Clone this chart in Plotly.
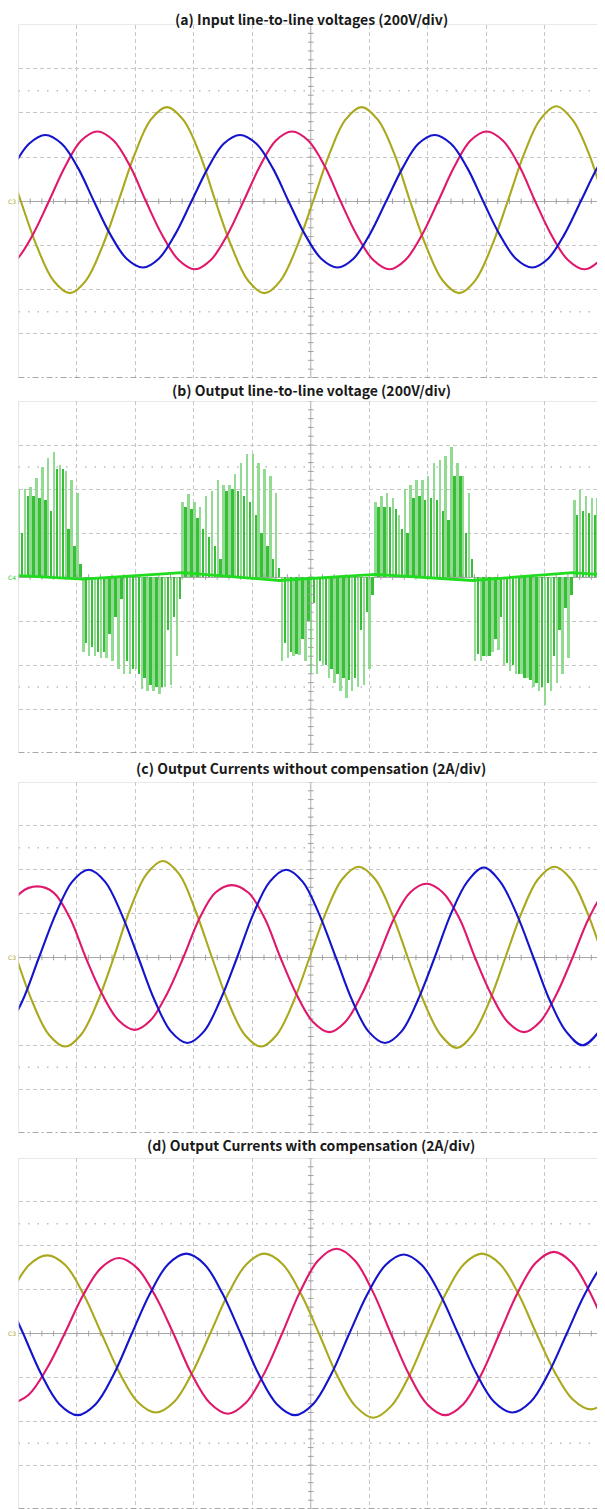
import plotly.graph_objects as go

# page is 605 x 1509; the html body adds an 8 px margin, so the figure is drawn 8 px in
PAGE_W, PAGE_H = 605, 1509
OFF = 8
W, H = PAGE_W - OFF, PAGE_H - OFF

# ---------------- panel (a): input line-to-line voltages (div units) ----------------
a_yel_t = [-0.24, 0.04, 0.32, 0.60, 0.88, 1.15, 1.43, 1.71, 1.99, 2.26, 2.54, 2.82, 3.10,
           3.37, 3.65, 3.93, 4.21, 4.48, 4.76, 5.04, 5.32, 5.59, 5.87, 6.15, 6.43, 6.70,
           6.98, 7.26, 7.54, 7.81, 8.09, 8.37, 8.65, 8.92, 9.20, 9.48, 9.76, 10.03, 10.31]
a_yel_v = [1.07, 0, -1.04, -1.80, -2.08, -1.80, -1.04, 0, 1.07, 1.84, 2.13, 1.84, 1.07,
           0, -1.04, -1.80, -2.08, -1.80, -1.04, 0, 1.07, 1.84, 2.13, 1.84, 1.07, 0,
           -1.04, -1.80, -2.08, -1.80, -1.04, 0, 1.07, 1.84, 2.15, 1.84, 1.07, 0, -1.04]
a_blu_t = [-0.37, -0.10, 0.18, 0.46, 0.74, 1.02, 1.29, 1.57, 1.85, 2.13, 2.40, 2.68, 2.96,
           3.24, 3.51, 3.79, 4.07, 4.35, 4.62, 4.90, 5.18, 5.46, 5.73, 6.01, 6.29, 6.57,
           6.84, 7.12, 7.40, 7.68, 7.95, 8.23, 8.51, 8.79, 9.06, 9.34, 9.62, 9.90, 10.17]
a_blu_v = [0, 0.75, 1.30, 1.5, 1.30, 0.75, 0, -0.75, -1.30, -1.5, -1.30, -0.75,
           0, 0.75, 1.30, 1.5, 1.30, 0.75, 0, -0.75, -1.30, -1.5, -1.30, -0.75,
           0, 0.75, 1.30, 1.5, 1.30, 0.75, 0, -0.75, -1.30, -1.5, -1.30, -0.75,
           0, 0.75, 1.30]
a_pnk_t = [-0.32, -0.04, 0.24, 0.52, 0.80, 1.07, 1.35, 1.63, 1.91, 2.18, 2.46, 2.74, 3.02,
           3.29, 3.57, 3.85, 4.13, 4.40, 4.68, 4.96, 5.24, 5.51, 5.79, 6.07, 6.35, 6.62,
           6.90, 7.18, 7.46, 7.73, 8.01, 8.29, 8.57, 8.84, 9.12, 9.40, 9.68, 9.95, 10.23]
a_pnk_v = [-1.54, -1.33, -0.77, 0, 0.79, 1.37, 1.58, 1.37, 0.79, 0, -0.77, -1.33,
           -1.54, -1.33, -0.77, 0, 0.79, 1.37, 1.58, 1.37, 0.79, 0, -0.77, -1.33,
           -1.54, -1.33, -0.77, 0, 0.79, 1.37, 1.58, 1.37, 0.79, 0, -0.77, -1.33,
           -1.54, -1.33, -0.77]

# ---------------- panel (b): output line-to-line voltage (PWM pulses) ----------------
b_pulse_t = [0.0, 0.1, 0.2, 0.3, 0.4, 0.5, 0.6, 0.7, 0.8, 0.9,
             1.0, 1.1, 1.2, 1.3, 1.4, 1.5, 1.6, 1.7, 1.8, 1.9,
             2.0, 2.1, 2.2, 2.3, 2.4, 2.5, 2.6, 2.7, 2.8, 2.9,
             3.0, 3.1, 3.2, 3.3, 3.4, 3.5, 3.6, 3.7, 3.8, 3.9,
             4.0, 4.1, 4.2, 4.3, 4.4, 4.5, 4.6, 4.7, 4.8, 4.9,
             5.0, 5.1, 5.2, 5.3, 5.4, 5.5, 5.6, 5.7, 5.8, 5.9,
             6.0, 6.1, 6.2, 6.3, 6.4, 6.5, 6.6, 6.7, 6.8, 6.9,
             7.0, 7.1, 7.2, 7.3, 7.4, 7.5, 7.6, 7.7, 7.8, 7.9,
             8.0, 8.1, 8.2, 8.3, 8.4, 8.5, 8.6, 8.7, 8.8, 8.9,
             9.0, 9.1, 9.2, 9.3, 9.4, 9.5, 9.6, 9.7, 9.8, 9.9]
b_outer = [2.0, 2.0, 2.05, 2.25, 2.5, 2.7, 2.85, 2.55, 2.4, 2.2,
           1.9, -1.7, -1.8, -1.8, -1.85, -1.85, -1.9, -2.1, -2.2, -2.2,
           -2.1, -2.55, -2.6, -2.6, -2.65, -2.5, -2.45, -1.8, 1.7, 1.88,
           1.7, 1.6, 1.85, 1.95, 2.2, 2.1, 2.1, 2.35, 2.6, 2.8,
           2.8, 2.6, 2.45, 2.3, 1.9, -1.9, -1.85, -1.8, -1.78, -1.92,
           -2.2, -2.2, -2.0, -2.3, -2.4, -2.6, -2.75, -2.6, -2.5, -2.45,
           -2.1, 1.7, 1.85, 1.9, 1.8, 1.4, 2.0, 2.1, 2.2, 2.2,
           2.3, 2.6, 2.65, 2.75, 2.95, 2.6, 2.3, 1.9, -1.9, -1.92,
           -1.8, -1.7, -1.65, -2.0, -2.14, -2.2, -2.2, -2.3, -2.5, -2.6,
           -2.9, -2.6, -2.4, -2.2, -1.85, 1.76, 1.98, 1.85, 1.8, 1.8]
b_inner = [1.0, 1.85, 1.85, 1.8, 1.75, 1.5, 2.45, 2.45, 1.1, 0.7,
           0.3, -1.5, -1.6, -1.7, -1.7, -1.3, -0.9, -0.5, -1.9, -2.1,
           -2.2, -2.3, -2.45, -2.5, -2.5, -1.2, -0.9, -0.5, 1.6, 1.55,
           1.35, 1.1, 0.9, 0.7, 0.4, 1.95, 2.0, 1.95, 1.85, 1.7,
           1.4, 1.0, 0.7, 0.4, 0.2, -1.5, -1.7, -1.75, -1.4, -1.0,
           -0.6, -1.9, -2.0, -2.1, -2.2, -2.3, -2.35, -2.3, -1.2, -0.8,
           -0.4, 1.6, 1.6, 1.6, 1.55, 1.1, 1.0, 1.8, 1.85, 1.75,
           1.8, 1.75, 1.5, 1.3, 2.3, 2.3, 1.0, 0.4, -1.75, -1.8,
           -1.8, -1.4, -0.9, -1.95, -2.0, -2.2, -2.3, -2.35, -2.4, -2.5,
           -2.4, -1.8, -1.2, -0.7, -0.4, 1.4, 1.5, 1.45, 1.4, 1.3]
b_base_t = [0.0, 1.1, 2.8, 4.46, 6.11, 7.77, 9.48, 10.0]
b_base_v = [0.03, -0.05, 0.1, -0.08, 0.06, -0.08, 0.1, 0.05]

# ---------------- panel (c): output currents without compensation ----------------
c_yel_t = [-0.32, -0.04, 0.24, 0.52, 0.80, 1.07, 1.35, 1.63, 1.91, 2.19, 2.47, 2.75, 3.03,
           3.31, 3.59, 3.87, 4.15, 4.42, 4.70, 4.98, 5.26, 5.54, 5.82, 6.10, 6.38, 6.66,
           6.94, 7.22, 7.50, 7.77, 8.05, 8.33, 8.61, 8.89, 9.17, 9.45, 9.73, 10.01, 10.29]
c_yel_v = [1.06, 0, -1.02, -1.76, -2.03, -1.76, -1.02, 0, 1.1, 1.9, 2.2, 1.9, 1.06,
           0, -1.02, -1.76, -2.03, -1.76, -1.02, 0, 1.03, 1.79, 2.07, 1.79, 1.03, 0,
           -1.02, -1.76, -2.06, -1.76, -1.02, 0, 1.03, 1.79, 2.07, 1.79, 1.03, 0, -1.02]
c_blu_t = [-0.21, 0.07, 0.35, 0.64, 0.92, 1.20, 1.48, 1.76, 2.05, 2.33, 2.61, 2.89, 3.17,
           3.45, 3.74, 4.02, 4.30, 4.58, 4.86, 5.14, 5.43, 5.71, 5.99, 6.27, 6.55, 6.83,
           7.12, 7.40, 7.68, 7.96, 8.24, 8.52, 8.81, 9.09, 9.37, 9.65, 9.93, 10.21]
c_blu_v = [-1.69, -0.98, 0, 1.0, 1.73, 2.0, 1.73, 1.0, 0, -0.98, -1.69, -1.95,
           -1.69, -0.98, 0, 1.0, 1.73, 2.0, 1.73, 1.0, 0, -0.98, -1.69, -1.95,
           -1.69, -0.98, 0, 1.0, 1.73, 2.05, 1.73, 1.0, 0, -0.98, -1.69, -2.0,
           -1.69, -0.98]
c_pnk_t = [-0.24, 0.04, 0.32, 0.60, 0.88, 1.15, 1.43, 1.71, 1.99, 2.26, 2.54, 2.82, 3.10,
           3.37, 3.65, 3.93, 4.21, 4.48, 4.76, 5.04, 5.32, 5.59, 5.87, 6.15, 6.43, 6.70,
           6.98, 7.26, 7.54, 7.81, 8.09, 8.37, 8.65, 8.92, 9.20, 9.48, 9.76, 10.03, 10.31]
c_pnk_v = [0.9, 1.48, 1.62, 1.48, 0.9, 0, -0.83, -1.43, -1.65, -1.43, -0.83, 0,
           0.9, 1.48, 1.65, 1.48, 0.9, 0, -0.85, -1.47, -1.7, -1.47, -0.85, 0,
           0.9, 1.48, 1.68, 1.48, 0.9, 0, -0.85, -1.47, -1.7, -1.47, -0.85, 0,
           0.9, 1.48, 1.62]

# ---------------- panel (d): output currents with compensation ----------------
d_yel_t = [-0.13, 0.18, 0.49, 0.80, 1.11, 1.42, 1.73, 2.04, 2.35, 2.66, 2.97, 3.28,
           3.59, 3.90, 4.21, 4.52, 4.83, 5.14, 5.45, 5.76, 6.07, 6.38, 6.69, 7.00,
           7.31, 7.62, 7.93, 8.24, 8.55, 8.86, 9.17, 9.48, 9.79, 10.10]
d_yel_v = [0.9, 1.56, 1.78, 1.56, 0.9, 0, -0.9, -1.56, -1.8, -1.56, -0.9, 0,
           0.91, 1.58, 1.82, 1.58, 0.91, 0, -0.95, -1.65, -1.92, -1.65, -0.95, 0,
           0.91, 1.58, 1.82, 1.58, 0.91, 0, -0.87, -1.5, -1.73, -1.5]
d_pnk_t = [-0.14, 0.17, 0.48, 0.79, 1.10, 1.41, 1.72, 2.03, 2.34, 2.65, 2.96, 3.27,
           3.58, 3.89, 4.20, 4.51, 4.82, 5.13, 5.44, 5.75, 6.06, 6.37, 6.68, 6.99,
           7.30, 7.61, 7.92, 8.23, 8.54, 8.85, 9.16, 9.47, 9.78, 10.09]
d_pnk_v = [-1.62, -1.4, -0.81, 0, 0.86, 1.49, 1.72, 1.49, 0.86, 0, -0.92, -1.58,
           -1.83, -1.58, -0.92, 0, 0.96, 1.67, 1.93, 1.67, 0.96, 0, -0.93, -1.61,
           -1.86, -1.61, -0.93, 0, 0.93, 1.61, 1.86, 1.61, 0.93, 0]
d_blu_t = [-0.23, 0.08, 0.39, 0.70, 1.01, 1.32, 1.63, 1.94, 2.25, 2.56, 2.87, 3.18,
           3.49, 3.80, 4.11, 4.42, 4.73, 5.04, 5.35, 5.66, 5.97, 6.28, 6.59, 6.90,
           7.21, 7.52, 7.83, 8.14, 8.45, 8.76, 9.07, 9.38, 9.69, 10.00, 10.31]
d_blu_v = [0.91, 0, -0.93, -1.61, -1.86, -1.61, -0.93, 0, 0.91, 1.58, 1.82, 1.58,
           0.91, 0, -0.93, -1.61, -1.86, -1.61, -0.93, 0, 0.9, 1.56, 1.8, 1.56,
           0.9, 0, -0.9, -1.56, -1.8, -1.56, -0.9, 0, 0.9, 1.56, 1.8]

titles = ["(a) Input line-to-line voltages (200V/div)",
          "(b) Output line-to-line voltage (200V/div)",
          "(c) Output Currents without compensation (2A/div)",
          "(d) Output Currents with compensation (2A/div)"]
channel_labels = ["C3", "C4", "C3", "C3"]

# ---------------- styling / layout (page pixel positions) ----------------
YEL = "#aaa91e"
BLU = "#1414cc"
PNK = "#e0186c"
GRID = "#c6c6c6"
X_LEFT, X_RIGHT = 18.5, 603.0
boxes = [(24.5, 378.0), (401.0, 753.0), (782.0, 1133.0), (1158.0, 1509.0)]
title_y = [None, 390, 768, 1145]   # first title is pinned to the top edge


def fx(px):
    return (px - OFF) / W


def fy(py):
    return 1 - (py - OFF) / H


fig = go.Figure()


def ax(n):
    return ("x" if n == 1 else f"x{n}"), ("y" if n == 1 else f"y{n}")


# centre tick marks of the graticule
tick_pos_x = [i * 0.2 for i in range(51)]
tick_pos_y = [-4 + i * 0.2 for i in range(41)]

for n in range(1, 5):
    xa, ya = ax(n)
    fig.add_trace(go.Scatter(x=tick_pos_x, y=[0] * len(tick_pos_x), mode="markers",
                             marker=dict(symbol="line-ns", size=4, line=dict(width=1, color="#a0a0a0")),
                             xaxis=xa, yaxis=ya, hoverinfo="skip"))
    fig.add_trace(go.Scatter(x=[5] * len(tick_pos_y), y=tick_pos_y, mode="markers",
                             marker=dict(symbol="line-ew", size=4, line=dict(width=1, color="#a0a0a0")),
                             xaxis=xa, yaxis=ya, hoverinfo="skip"))


def add_wave(n, t, v, color):
    xa, ya = ax(n)
    fig.add_trace(go.Scatter(x=t, y=v, mode="lines",
                             line=dict(color=color, width=2.1, shape="spline", smoothing=1.0),
                             xaxis=xa, yaxis=ya, hoverinfo="skip"))


# panel a
add_wave(1, a_yel_t, a_yel_v, YEL)
add_wave(1, a_pnk_t, a_pnk_v, PNK)
add_wave(1, a_blu_t, a_blu_v, BLU)

# panel b
fig.add_trace(go.Bar(x=b_pulse_t, y=b_outer, width=0.042,
                     marker=dict(color="rgba(135,215,135,0.9)", line=dict(width=0)),
                     xaxis="x2", yaxis="y2", hoverinfo="skip"))
fig.add_trace(go.Bar(x=[t + 0.05 for t in b_pulse_t], y=b_inner, width=0.042,
                     marker=dict(color="rgba(45,188,45,0.95)", line=dict(width=0)),
                     xaxis="x2", yaxis="y2", hoverinfo="skip"))
fig.add_trace(go.Scatter(x=b_base_t, y=b_base_v, mode="lines", line=dict(color="#1fdc1f", width=2.8),
                         xaxis="x2", yaxis="y2", hoverinfo="skip"))

# panel c
add_wave(3, c_yel_t, c_yel_v, YEL)
add_wave(3, c_pnk_t, c_pnk_v, PNK)
add_wave(3, c_blu_t, c_blu_v, BLU)

# panel d
add_wave(4, d_yel_t, d_yel_v, YEL)
add_wave(4, d_pnk_t, d_pnk_v, PNK)
add_wave(4, d_blu_t, d_blu_v, BLU)

layout = dict(width=W, height=H, margin=dict(l=0, r=0, t=0, b=0),
              paper_bgcolor="white", plot_bgcolor="white", showlegend=False,
              barmode="overlay", bargap=0)
shapes = []
annotations = []
for i, (top, bot) in enumerate(boxes):
    n = i + 1
    xa, ya = ax(n)
    xkey = "xaxis" if n == 1 else f"xaxis{n}"
    ykey = "yaxis" if n == 1 else f"yaxis{n}"
    layout[xkey] = dict(domain=[fx(X_LEFT), min(1.0, fx(X_RIGHT))], range=[0, 10], dtick=1, tick0=0,
                        showgrid=True, gridcolor=GRID, griddash="4px,3px", gridwidth=1,
                        zeroline=False, showline=False, showticklabels=False, ticks="",
                        anchor=ya, fixedrange=True)
    layout[ykey] = dict(domain=[max(0.0, fy(bot)), fy(top)], range=[-4, 4], dtick=1, tick0=0,
                        showgrid=True, gridcolor=GRID, griddash="4px,3px", gridwidth=1,
                        zeroline=True, zerolinecolor="#a8a8a8", zerolinewidth=1,
                        showline=False, showticklabels=False, ticks="",
                        anchor=xa, fixedrange=True)
    shapes.append(dict(type="line", xref=xa, yref=ya, x0=5, x1=5, y0=-4, y1=4, layer="below",
                       line=dict(color="#a8a8a8", width=1)))
    for yy in (2.5, -2.5):
        shapes.append(dict(type="line", xref=xa, yref=ya, x0=0, x1=10, y0=yy, y1=yy, layer="below",
                           line=dict(color="#bcbcbc", width=1.4, dash="1.5px,8px")))
    shapes.append(dict(type="line", xref=xa, yref=ya, x0=0, x1=10, y0=4, y1=4,
                       line=dict(color="#d4d4d4", width=1.2)))
    shapes.append(dict(type="line", xref=xa, yref=ya, x0=0, x1=0, y0=-4, y1=4,
                       line=dict(color="#d4d4d4", width=1.2)))
    shapes.append(dict(type="line", xref=xa, yref=ya, x0=10, x1=10, y0=-4, y1=4,
                       line=dict(color="#d4d4d4", width=1.2)))
    shapes.append(dict(type="line", xref=xa, yref=ya, x0=0, x1=10, y0=-4, y1=-4,
                       line=dict(color="#8a8a8a", width=1.6, dash="6px,3px,2px,3px")))
    if title_y[i] is None:
        ty, tanchor = 1.0, "top"
    else:
        ty, tanchor = fy(title_y[i]), "middle"
    annotations.append(dict(text=f"<b>{titles[i]}</b>", xref="paper", yref="paper",
                            x=fx(311), y=ty, xanchor="center", yanchor=tanchor,
                            showarrow=False, borderpad=0,
                            font=dict(family="Noto Sans CJK KR", size=14, color="#1a1a1a")))
    ch_col = "#22cc22" if n == 2 else YEL
    annotations.append(dict(text=channel_labels[i], xref="paper", yref=ya,
                            x=fx(X_LEFT - 1), y=0, xanchor="right", yanchor="middle", showarrow=False,
                            font=dict(family="DejaVu Sans", size=6, color=ch_col)))
    if n != 2:
        annotations.append(dict(text="◀", xref="paper", yref=ya, x=1.0, y=0,
                                xanchor="right", yanchor="middle", showarrow=False,
                                font=dict(family="DejaVu Sans", size=6, color=YEL)))

layout["shapes"] = shapes
layout["annotations"] = annotations
fig.update_layout(**layout)
fig.write_html("out.html")
